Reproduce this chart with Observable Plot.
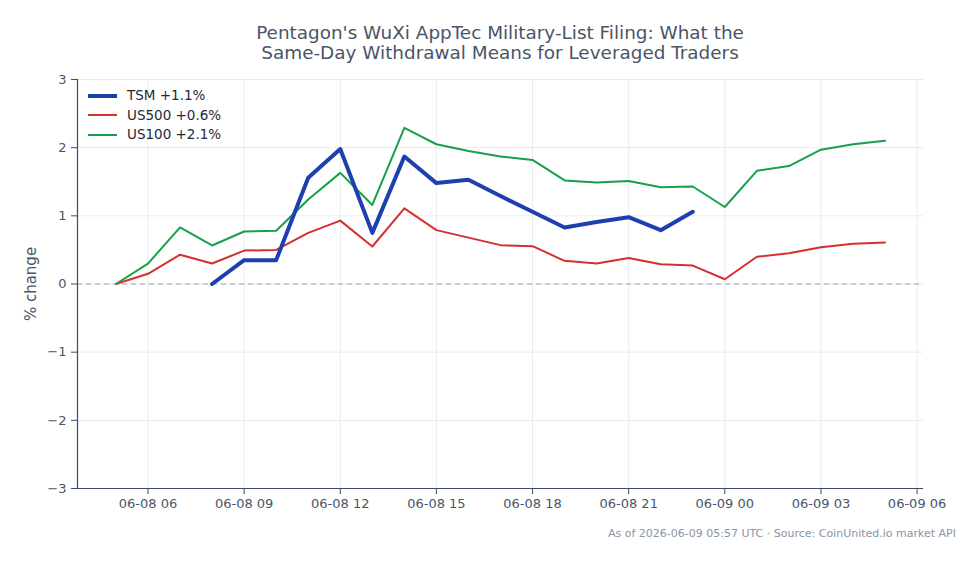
<!DOCTYPE html>
<html><head><meta charset="utf-8">
<script src="https://cdn.jsdelivr.net/npm/d3@7"></script>
<script src="https://cdn.jsdelivr.net/npm/@observablehq/plot@0.6"></script>
<style>
body{margin:0;background:#fff;font-family:"DejaVu Sans",sans-serif;}
#wrap{position:relative;width:979px;height:564px;overflow:hidden;}
#title{position:absolute;left:77px;width:846px;top:23px;text-align:center;font-size:18.4px;line-height:20px;color:#4a5568;}
#chart{position:absolute;left:0;top:63px;}
#legend{position:absolute;left:88px;top:86px;font-size:13.5px;color:#1f2937;line-height:19.5px;}
#legend div{display:flex;align-items:center;height:19.5px;}
#legend svg{margin-right:10px;}
#foot{position:absolute;right:23px;top:527px;font-size:11px;color:#8a94a6;white-space:nowrap;}
</style></head>
<body><div id="wrap">
<div id="title">Pentagon's WuXi AppTec Military-List Filing: What the<br>Same-Day Withdrawal Means for Leveraged Traders</div>
<div id="chart"></div>
<div id="legend"></div>
<div id="foot">As of 2026-06-09 05:57 UTC · Source: CoinUnited.io market API</div>
</div>
<script>
const times = [
  "2026-06-08T05:00Z","2026-06-08T06:00Z","2026-06-08T07:00Z","2026-06-08T08:00Z",
  "2026-06-08T09:00Z","2026-06-08T10:00Z","2026-06-08T11:00Z","2026-06-08T12:00Z",
  "2026-06-08T13:00Z","2026-06-08T14:00Z","2026-06-08T15:00Z","2026-06-08T16:00Z",
  "2026-06-08T17:00Z","2026-06-08T18:00Z","2026-06-08T19:00Z","2026-06-08T20:00Z",
  "2026-06-08T21:00Z","2026-06-08T22:00Z","2026-06-08T23:00Z","2026-06-09T00:00Z",
  "2026-06-09T01:00Z","2026-06-09T02:00Z","2026-06-09T03:00Z","2026-06-09T04:00Z",
  "2026-06-09T05:00Z"];
// TSM starts at 08:00 and ends at 23:00
const tsmTimes = times.slice(3, 19);
const tsm = [0, 0.35, 0.35, 1.56, 1.98, 0.75, 1.87, 1.48, 1.53, 1.29, 1.06, 0.83, 0.91, 0.98, 0.79, 1.06];
const us500 = [0, 0.15, 0.43, 0.30, 0.49, 0.50, 0.75, 0.93, 0.55, 1.11, 0.79, 0.68, 0.57, 0.555, 0.34, 0.30, 0.38, 0.29, 0.27, 0.07, 0.40, 0.45, 0.54, 0.59, 0.61];
const us100 = [0, 0.30, 0.83, 0.565, 0.77, 0.78, 1.24, 1.63, 1.16, 2.29, 2.05, 1.95, 1.87, 1.82, 1.52, 1.49, 1.51, 1.42, 1.43, 1.13, 1.66, 1.73, 1.97, 2.05, 2.10];
const seriesNames = ["TSM +1.1%", "US500 +0.6%", "US100 +2.1%"];
const seriesColors = ["#1e40af", "#d62f2f", "#17a04a"];
const seriesWidths = [4, 2, 2];
const yTicks = [-3, -2, -1, 0, 1, 2, 3];
const xDomain = ["2026-06-08T03:48Z", "2026-06-09T06:12Z"];

const parse = s => new Date(s);
const tsmData = tsmTimes.map((t, i) => ({t: parse(t), v: tsm[i]}));
const us500Data = times.map((t, i) => ({t: parse(t), v: us500[i]}));
const us100Data = times.map((t, i) => ({t: parse(t), v: us100[i]}));
const xd = xDomain.map(parse);

const axisColor = "#3f4b5e";
const plot = Plot.plot({
  width: 979,
  height: 457,
  marginLeft: 77,
  marginRight: 56,
  marginTop: 16,
  marginBottom: 32,
  style: {fontFamily: "DejaVu Sans, sans-serif", fontSize: "13px", color: "#4a5568", background: "white"},
  x: {type: "utc", domain: xd},
  y: {domain: [-3, 3]},
  marks: [
    Plot.gridX({interval: d3.utcHour.every(3), stroke: "#e8ebef", strokeOpacity: 1}),
    Plot.gridY(yTicks, {stroke: "#e8ebef", strokeOpacity: 1}),
    Plot.ruleY([0], {stroke: "#94a3b8", strokeDasharray: "5,4", strokeWidth: 1}),
    Plot.line(us500Data, {x: "t", y: "v", stroke: seriesColors[1], strokeWidth: seriesWidths[1]}),
    Plot.line(us100Data, {x: "t", y: "v", stroke: seriesColors[2], strokeWidth: seriesWidths[2]}),
    Plot.line(tsmData, {x: "t", y: "v", stroke: seriesColors[0], strokeWidth: seriesWidths[0]}),
    Plot.ruleX([xd[0]], {stroke: axisColor, strokeWidth: 1.2}),
    Plot.ruleY([-3], {stroke: axisColor, strokeWidth: 1.2}),
    Plot.axisY(yTicks, {label: null, tickSize: 6, tickPadding: 5, stroke: axisColor,
      tickFormat: d => d < 0 ? "\u2212" + Math.abs(d) : String(d), fill: "#4a5568"}),
    Plot.axisX({interval: d3.utcHour.every(3), label: null, tickSize: 6, tickPadding: 4, stroke: axisColor,
      tickFormat: d3.utcFormat("%m-%d %H"), fill: "#4a5568"}),
    Plot.text(["% change"], {frameAnchor: "left", textAnchor: "middle", rotate: -90, dx: -46, fontSize: 15, fill: "#4a5568"})
  ]
});
document.getElementById("chart").appendChild(plot);

const legend = document.getElementById("legend");
seriesNames.forEach((name, i) => {
  const row = document.createElement("div");
  row.innerHTML = `<svg width="29" height="8"><line x1="0" x2="29" y1="4" y2="4" stroke="${seriesColors[i]}" stroke-width="${seriesWidths[i] === 4 ? 4 : 2}"/></svg><span>${name}</span>`;
  legend.appendChild(row);
});
</script>
</body></html>
